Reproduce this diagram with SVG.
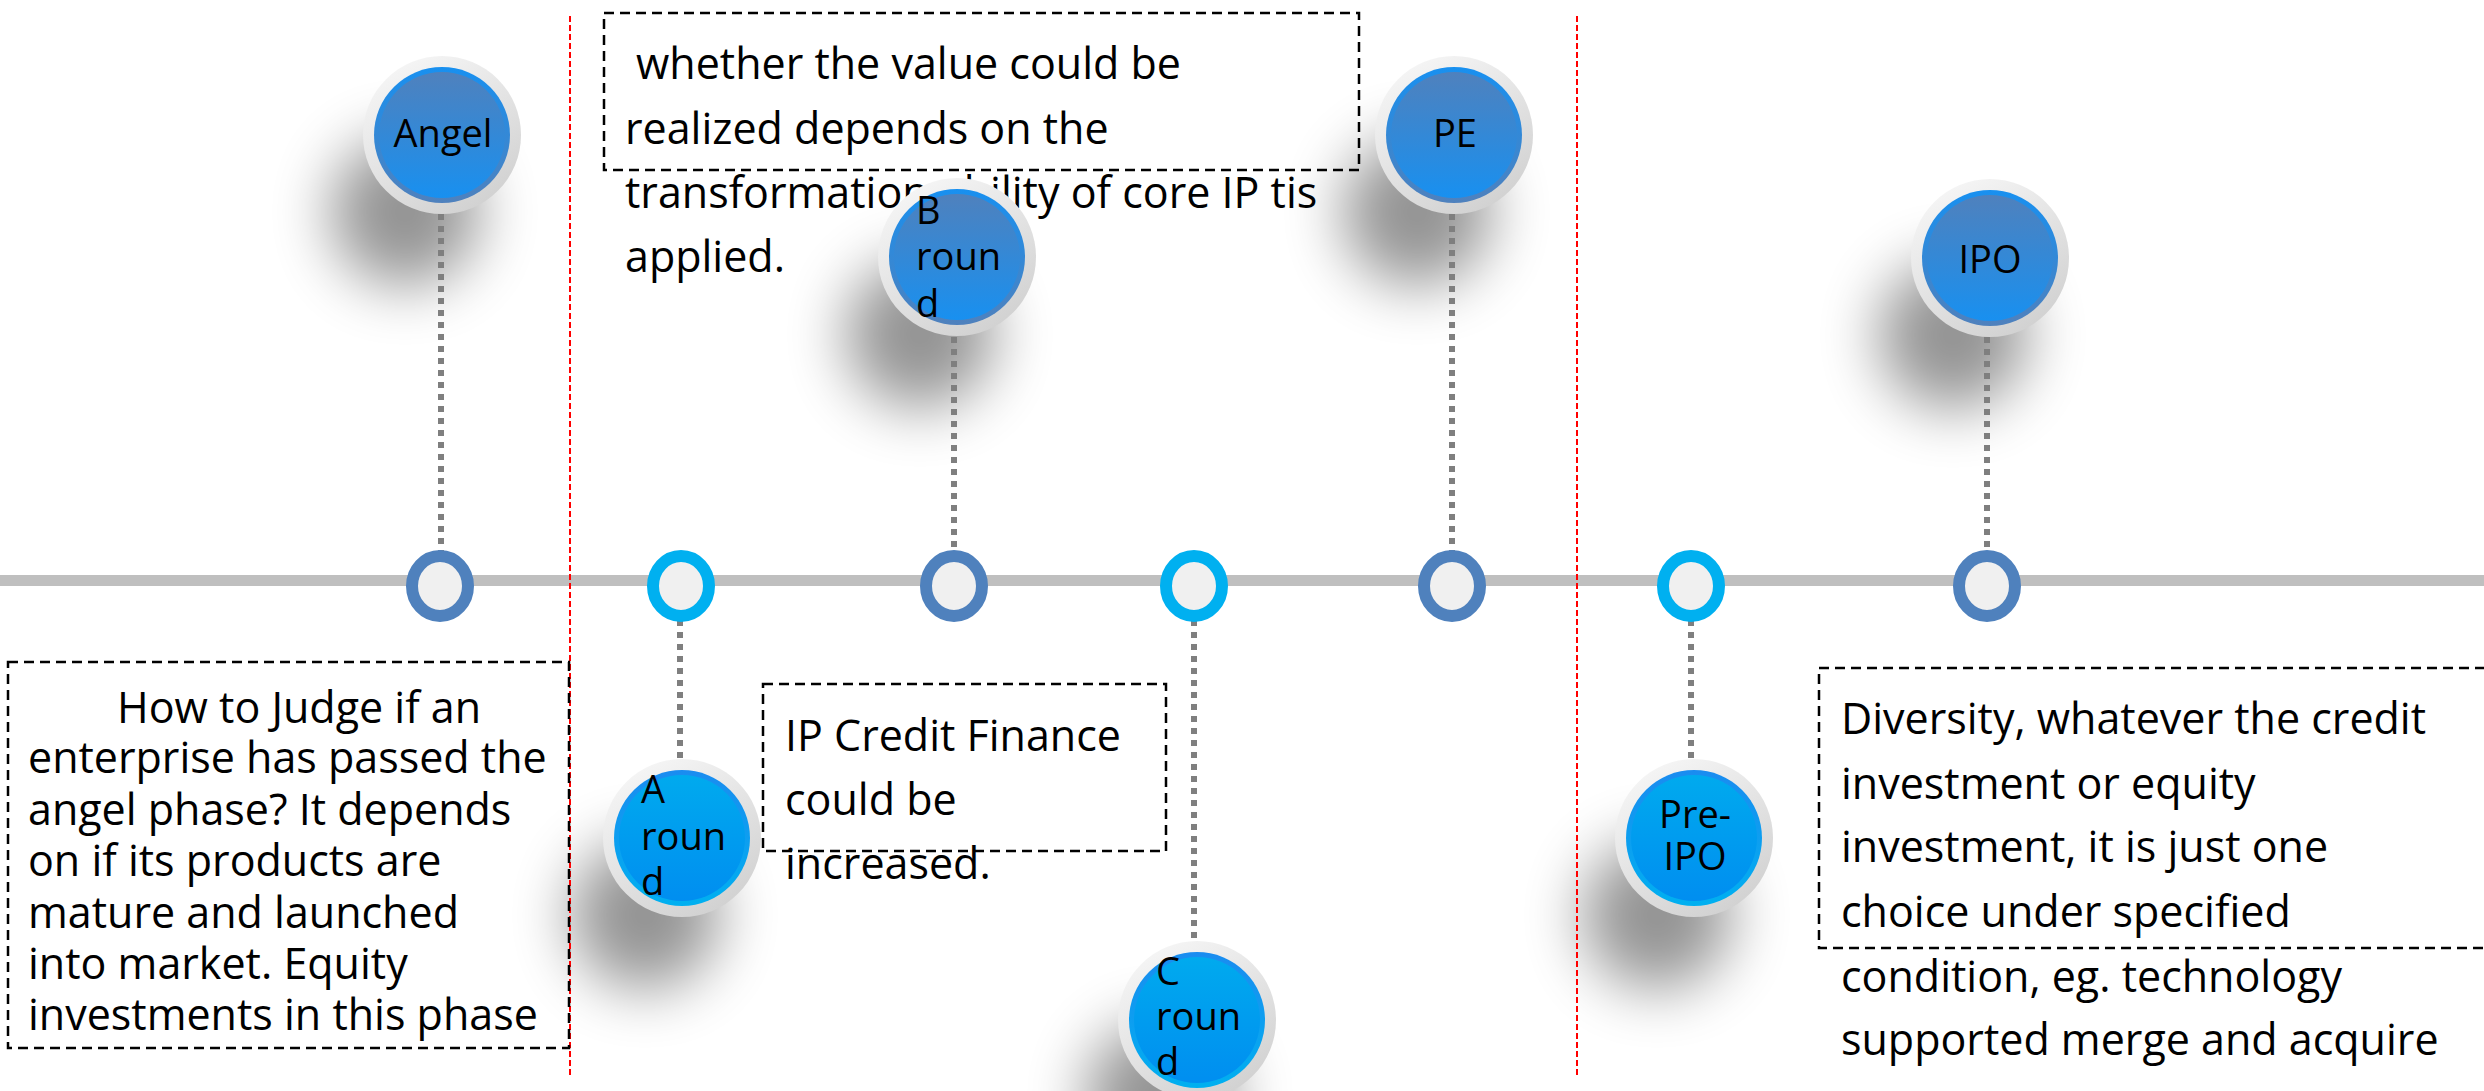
<svg xmlns="http://www.w3.org/2000/svg" width="2484" height="1091" viewBox="0 0 2484 1091">
<defs>
<style>
.txt{font-family:"Open Sans","Noto Sans","Liberation Sans",sans-serif;font-size:43px;fill:#000}
.lbl{font-family:"Open Sans","Noto Sans","Liberation Sans",sans-serif;font-size:38px;fill:#000}
.box{fill:none;stroke:#000;stroke-width:2.5;stroke-dasharray:10 6}
.red{stroke:#ff0000;stroke-width:2;stroke-dasharray:6 3;fill:none}
.conn{stroke:#7f7f7f;stroke-width:6;stroke-dasharray:6 6;fill:none}
.dot-d{fill:#f0f0f0;stroke:#4f81bd;stroke-width:12}
.dot-c{fill:#f0f0f0;stroke:#00b0f0;stroke-width:12}
.outer{fill:url(#gOuter)}
.ringU{fill:url(#gRingU)}
.inU{fill:url(#gInU)}
.ringL{fill:url(#gRingL)}
.inL{fill:url(#gInL)}
.sh{fill:#000;opacity:0.42;filter:url(#blur)}
</style>
<linearGradient id="gOuter" x1="0.2" y1="0" x2="0.8" y2="1">
<stop offset="0" stop-color="#f7f7f7"/><stop offset="1" stop-color="#cfcfcf"/>
</linearGradient>
<linearGradient id="gRingU" x1="0" y1="0" x2="0" y2="1">
<stop offset="0" stop-color="#1890f0"/><stop offset="1" stop-color="#4f81bd"/>
</linearGradient>
<linearGradient id="gInU" x1="0" y1="0" x2="0" y2="1">
<stop offset="0" stop-color="#4f81bd"/><stop offset="1" stop-color="#1890f0"/>
</linearGradient>
<linearGradient id="gRingL" x1="0" y1="0" x2="0" y2="1">
<stop offset="0" stop-color="#1a8cf0"/><stop offset="1" stop-color="#00b0f0"/>
</linearGradient>
<linearGradient id="gInL" x1="0" y1="0" x2="0" y2="1">
<stop offset="0" stop-color="#00aaee"/><stop offset="1" stop-color="#008ef0"/>
</linearGradient>
<filter id="blur" x="-1" y="-1" width="3" height="3">
<feGaussianBlur stdDeviation="30"/>
</filter>
</defs>
<rect width="2484" height="1091" fill="#fff"/>

<g id="shadows">
<circle class="sh" cx="405" cy="212" r="74"/>
<circle class="sh" cx="920" cy="334" r="74"/>
<circle class="sh" cx="1417" cy="212" r="74"/>
<circle class="sh" cx="1953" cy="335" r="74"/>
<circle class="sh" cx="645" cy="915" r="74"/>
<circle class="sh" cx="1160" cy="1097" r="74"/>
<circle class="sh" cx="1657" cy="915" r="74"/>
</g>

<g id="timeline">
<line x1="0" y1="580.5" x2="2484" y2="580.5" stroke="#bfbfbf" stroke-width="11"/>
</g>

<g id="dividers">
<line class="red" x1="570" y1="16" x2="570" y2="1075"/>
<line class="red" x1="1577" y1="16" x2="1577" y2="1075"/>
</g>

<g id="connectors">
<line class="conn" x1="441" y1="214" x2="441" y2="552"/>
<line class="conn" x1="954" y1="337" x2="954" y2="552"/>
<line class="conn" x1="1452" y1="214" x2="1452" y2="552"/>
<line class="conn" x1="1987" y1="337" x2="1987" y2="552"/>
<line class="conn" x1="680" y1="620" x2="680" y2="762"/>
<line class="conn" x1="1194" y1="620" x2="1194" y2="943"/>
<line class="conn" x1="1691" y1="620" x2="1691" y2="762"/>
</g>

<g id="markers">
<ellipse class="dot-d" cx="440" cy="586" rx="28" ry="30"/>
<ellipse class="dot-c" cx="681" cy="586" rx="28" ry="30"/>
<ellipse class="dot-d" cx="954" cy="586" rx="28" ry="30"/>
<ellipse class="dot-c" cx="1194" cy="586" rx="28" ry="30"/>
<ellipse class="dot-d" cx="1452" cy="586" rx="28" ry="30"/>
<ellipse class="dot-c" cx="1691" cy="586" rx="28" ry="30"/>
<ellipse class="dot-d" cx="1987" cy="586" rx="28" ry="30"/>
</g>

<g id="note-top">
<rect class="box" x="604" y="13" width="755" height="157"/>
<text class="txt" x="636" y="79">whether the value could be</text>
<text class="txt" x="625" y="144">realized depends on the</text>
<text class="txt" x="625" y="208">transformation ability of core IP tis</text>
<text class="txt" x="625" y="272">applied.</text>
</g>

<g id="note-left">
<rect class="box" x="8" y="662" width="561" height="386"/>
<text class="txt" x="117" y="723">How to Judge if an</text>
<text class="txt" x="28" y="773">enterprise has passed the</text>
<text class="txt" x="28" y="825">angel phase? It depends</text>
<text class="txt" x="28" y="876">on if its products are</text>
<text class="txt" x="28" y="928">mature and launched</text>
<text class="txt" x="28" y="979">into market. Equity</text>
<text class="txt" x="28" y="1030">investments in this phase</text>
</g>

<g id="note-ip">
<rect class="box" x="763" y="684" width="403" height="167"/>
<text class="txt" x="785" y="751">IP Credit Finance</text>
<text class="txt" x="785" y="815">could be</text>
<text class="txt" x="785" y="879">increased.</text>
</g>

<g id="note-right">
<rect class="box" x="1819" y="668" width="680" height="280"/>
<text class="txt" x="1841" y="734">Diversity, whatever the credit</text>
<text class="txt" x="1841" y="799">investment or equity</text>
<text class="txt" x="1841" y="862">investment, it is just one</text>
<text class="txt" x="1841" y="927">choice under specified</text>
<text class="txt" x="1841" y="992">condition, eg. technology</text>
<text class="txt" x="1841" y="1055">supported merge and acquire</text>
</g>

<g id="node-angel">
<circle class="outer" cx="442" cy="135" r="79"/>
<circle class="ringU" cx="442" cy="135" r="68"/>
<circle class="inU" cx="442" cy="135" r="63"/>
<text class="lbl" x="443" y="147" text-anchor="middle" font-size="34">Angel</text>
</g>

<g id="node-b-round">
<circle class="outer" cx="957" cy="257" r="79"/>
<circle class="ringU" cx="957" cy="257" r="68"/>
<circle class="inU" cx="957" cy="257" r="63"/>
<text class="lbl" x="916" y="224">B</text>
<text class="lbl" x="916" y="270">roun</text>
<text class="lbl" x="916" y="317">d</text>
</g>

<g id="node-pe">
<circle class="outer" cx="1454" cy="135" r="79"/>
<circle class="ringU" cx="1454" cy="135" r="68"/>
<circle class="inU" cx="1454" cy="135" r="63"/>
<text class="lbl" x="1455" y="147" text-anchor="middle">PE</text>
</g>

<g id="node-ipo">
<circle class="outer" cx="1990" cy="258" r="79"/>
<circle class="ringU" cx="1990" cy="258" r="68"/>
<circle class="inU" cx="1990" cy="258" r="63"/>
<text class="lbl" x="1990" y="273" text-anchor="middle">IPO</text>
</g>

<g id="node-a-round">
<circle class="outer" cx="682" cy="838" r="79"/>
<circle class="ringL" cx="682" cy="838" r="68"/>
<circle class="inL" cx="682" cy="838" r="63"/>
<text class="lbl" x="641" y="803">A</text>
<text class="lbl" x="641" y="850">roun</text>
<text class="lbl" x="641" y="895">d</text>
</g>

<g id="node-c-round">
<circle class="outer" cx="1197" cy="1020" r="79"/>
<circle class="ringL" cx="1197" cy="1020" r="68"/>
<circle class="inL" cx="1197" cy="1020" r="63"/>
<text class="lbl" x="1156" y="985">C</text>
<text class="lbl" x="1156" y="1030">roun</text>
<text class="lbl" x="1156" y="1075">d</text>
</g>

<g id="node-pre-ipo">
<circle class="outer" cx="1694" cy="838" r="79"/>
<circle class="ringL" cx="1694" cy="838" r="68"/>
<circle class="inL" cx="1694" cy="838" r="63"/>
<text class="lbl" x="1695" y="828" text-anchor="middle" font-size="35">Pre-</text>
<text class="lbl" x="1695" y="870" text-anchor="middle" font-size="35">IPO</text>
</g>
</svg>
